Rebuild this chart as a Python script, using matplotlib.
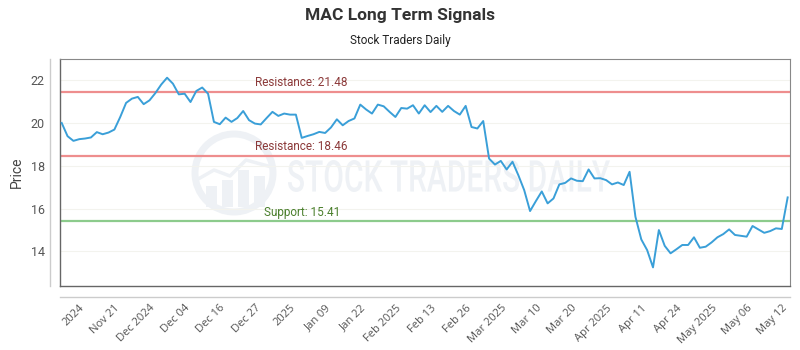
#!/usr/bin/env python3

import matplotlib
matplotlib.use('Agg')
import matplotlib.pyplot as plt
import numpy as np
from matplotlib.textpath import TextPath
from matplotlib.patches import PathPatch, Circle, Rectangle
from matplotlib.font_manager import FontProperties
from matplotlib.transforms import Affine2D
from matplotlib.lines import Line2D

# closing prices, one per session
prices = [20.01, 19.39, 19.17, 19.25, 19.28, 19.33, 19.58, 19.48, 19.56, 19.70,
          20.29, 20.95, 21.15, 21.23, 20.89, 21.07, 21.41, 21.81, 22.13, 21.85,
          21.35, 21.38, 20.99, 21.51, 21.67, 21.38, 20.06, 19.95, 20.26, 20.06,
          20.24, 20.57, 20.14, 19.98, 19.94, 20.24, 20.53, 20.34, 20.45, 20.40,
          20.40, 19.31, 19.40, 19.48, 19.59, 19.54, 19.80, 20.18, 19.90, 20.10,
          20.22, 20.87, 20.64, 20.45, 20.87, 20.79, 20.53, 20.29, 20.71, 20.68,
          20.84, 20.45, 20.84, 20.52, 20.81, 20.53, 20.81, 20.57, 20.40, 20.81,
          19.82, 19.75, 20.10, 18.34, 18.06, 18.23, 17.83, 18.19, 17.56, 16.86,
          15.88, 16.35, 16.80, 16.24, 16.47, 17.13, 17.20, 17.41, 17.30, 17.28,
          17.83, 17.41, 17.42, 17.33, 17.13, 17.22, 17.10, 17.72, 15.61, 14.55,
          14.05, 13.24, 14.99, 14.25, 13.90, 14.09, 14.29, 14.29, 14.65, 14.16,
          14.21, 14.41, 14.65, 14.80, 15.02, 14.76, 14.72, 14.68, 15.18, 15.02,
          14.86, 14.94, 15.07, 15.04, 16.52]

tick_labels = ['2024', 'Nov 21', 'Dec 2024', 'Dec 04', 'Dec 16', 'Dec 27', '2025',
               'Jan 09', 'Jan 22', 'Feb 2025', 'Feb 13', 'Feb 26', 'Mar 2025',
               'Mar 10', 'Mar 20', 'Apr 2025', 'Apr 11', 'Apr 24', 'May 2025',
               'May 06', 'May 12']
tick_pos = [3 + 6 * i for i in range(len(tick_labels))]

resistance = [21.48, 18.46]
support = [15.41]
y_ticks = [14, 16, 18, 20, 22]

FONT = 'Roboto'
plt.rcParams['font.family'] = FONT

fig = plt.figure(figsize=(8, 3.5), dpi=100)
ax = fig.add_axes([0.075, 0.183, 0.9125, 0.648])

px = Affine2D().scale(1 / 100.0) + fig.dpi_scale_trans
H = 350

# watermark logo + text
wm = '#eef1f5'
ring = Circle((234, H - 173), 39, fill=False, ec=wm, lw=5, transform=px, zorder=0)
ax.add_patch(ring)
for bx, bt in [(206, 186), (222, 180), (238, 170), (254, 176)]:
    ax.add_patch(Rectangle((bx, H - 207), 11, 207 - bt, fc=wm, ec='none',
                           transform=px, zorder=0))
ax.add_line(Line2D([200, 214, 230, 246, 268], [H - 178, H - 170, H - 176, H - 160, H - 166],
                   color=wm, lw=2.5, transform=px, zorder=0))
tp = TextPath((0, 0), 'STOCK TRADERS DAILY', size=10,
              prop=FontProperties(family=FONT, weight='medium'))
bb = tp.get_extents()
sx = 322 / bb.width
sy = 32 / bb.height
wm_tr = Affine2D().translate(-bb.x0, -bb.y0).scale(sx, sy).translate(288, H - 192) + px
ax.add_patch(PathPatch(tp, fc=wm, ec='none', transform=wm_tr, zorder=0))

x = np.arange(len(prices))
ax.plot(x, prices, color='#3a9fd8', lw=1.4, zorder=3)

for r in resistance:
    ax.axhline(r, color='#ee8e8e', lw=1.6, zorder=2)
    ax.text(41, r + 0.12, 'Resistance: %.2f' % r, color='#8c3a3a', fontsize=8.5,
            ha='center', va='bottom', zorder=4)
for s in support:
    ax.axhline(s, color='#8ccb8c', lw=1.6, zorder=2)
    ax.text(41, s + 0.12, 'Support: %.2f' % s, color='#4a7f2c', fontsize=8.5,
            ha='center', va='bottom', zorder=4)

ax.set_xlim(-0.29, 124.4)
ax.set_ylim(12.37, 23.0)
ax.set_yticks(y_ticks)
ax.set_xticks(tick_pos)
ax.set_xticklabels(tick_labels, rotation=45, ha='right', va='top',
                   rotation_mode='anchor', family='Open Sans')
ax.tick_params(axis='x', length=0, pad=12, labelsize=8, labelcolor='#555555')
ax.tick_params(axis='y', length=0, pad=11, labelsize=9, labelcolor='#555555')
ax.grid(axis='y', color='#f3f3ee', lw=0.8)
ax.set_axisbelow(True)
ax.set_ylabel('Price', fontsize=10, color='#444444', labelpad=5)

for side in ['left', 'bottom']:
    ax.spines[side].set_color('#666666')
    ax.spines[side].set_linewidth(1.0)
ax.spines['right'].set_color('#888888')
ax.spines['top'].set_color('#888888')
ax.spines['right'].set_linewidth(0.8)
ax.spines['top'].set_linewidth(0.8)

# outer offset axis lines
fig.add_artist(Line2D([50, 50], [H - 59, H - 286], color='#cccccc', lw=1.0, transform=px))
fig.add_artist(Line2D([60, 790], [H - 297, H - 297], color='#cccccc', lw=1.0, transform=px))

fig.text(0.5, 0.955, 'MAC Long Term Signals', ha='center', va='center',
         fontsize=12.5, fontweight='bold', color='#333333')
fig.text(0.5, 0.885, 'Stock Traders Daily', ha='center', va='center',
         fontsize=8.5, color='#222222')

plt.savefig('out.png', dpi=100)
plt.close()
